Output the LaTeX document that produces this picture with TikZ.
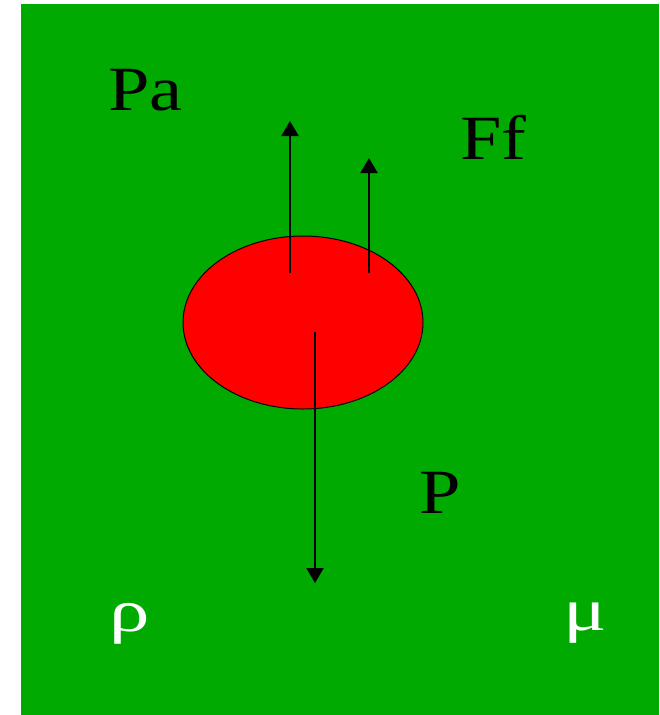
\documentclass[tikz,border=0pt]{standalone}
\usepackage{fontspec}
\setmainfont{Liberation Serif}
\usetikzlibrary{arrows.meta,shapes.geometric}
\definecolor{bggreen}{RGB}{0,170,0}
\definecolor{ballred}{RGB}{255,0,0}
\tikzset{
  force/.style={line width=2.2pt,-{Triangle[width=17pt,length=15pt]}},
  lbl/.style={inner sep=0pt,font=\fontsize{63}{70}\selectfont,xscale=1.18},
  greek/.style={inner sep=0pt,text=white,font=\fontsize{60}{66}\selectfont,xscale=1.35}
}
\begin{document}
\begin{tikzpicture}[x=1pt,y=-1pt]
\useasboundingbox (0,0) rectangle (659,715);
\fill[white] (0,0) rectangle (659,715);
\fill[bggreen] (21,4) rectangle (659,715);
\node[ellipse,draw=black,line width=1pt,fill=ballred,minimum width=240pt,minimum height=173pt,inner sep=0pt] (ball) at (303,322.5) {};
\coordinate (pa0) at (290,273);
\coordinate (pa1) at (290,121);
\coordinate (ff0) at (369,273);
\coordinate (ff1) at (369,158);
\coordinate (p0) at (315,332);
\coordinate (p1) at (315,583);
\draw[force] (pa0) -- (pa1);
\draw[force] (ff0) -- (ff1);
\draw[force] (p0) -- (p1);
\node[lbl,anchor=base west] (pa) at (108,110) {Pa};
\node[lbl,anchor=base west] (ff) at (460,159) {Ff};
\node[lbl,anchor=base west] (p) at (419,513) {P};
\node[greek,anchor=base west] (rho) at (109,631) {ρ};
\node[greek,anchor=base west] (mu) at (563,630) {μ};
\end{tikzpicture}
\end{document}
